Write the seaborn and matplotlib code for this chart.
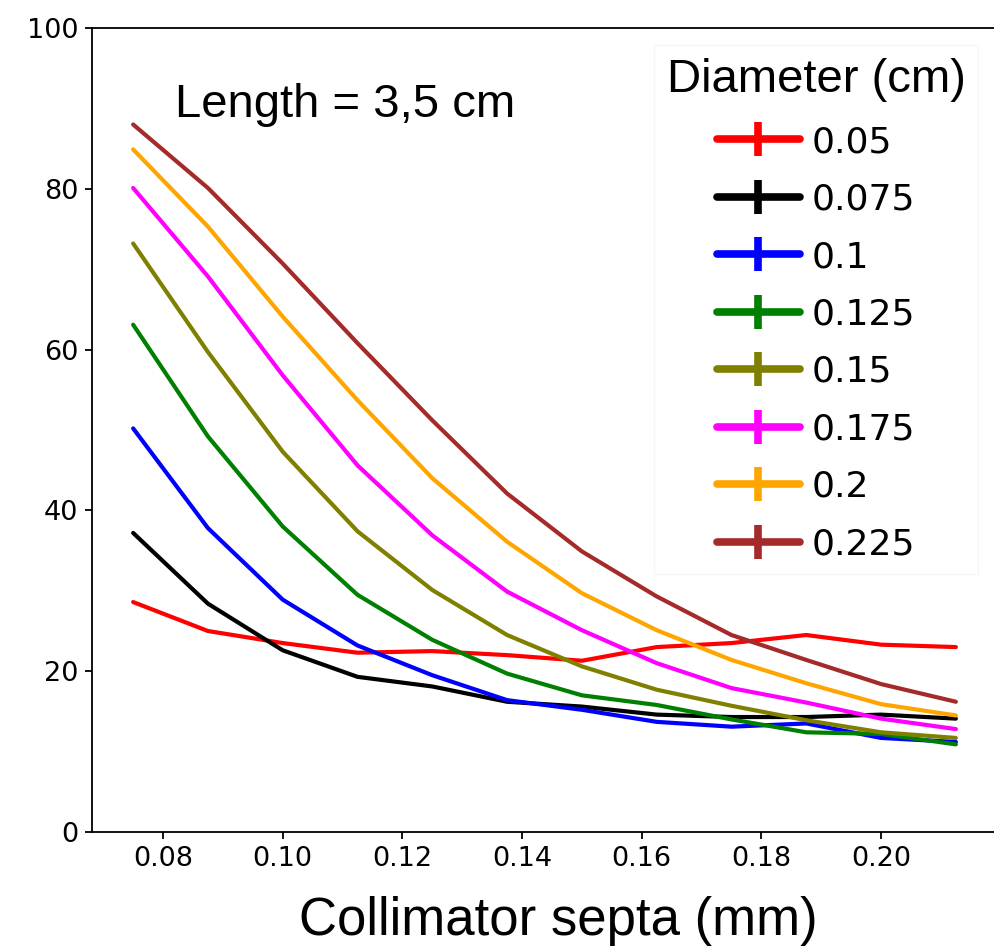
import numpy as np
import pandas as pd
import matplotlib
matplotlib.use("Agg")
import matplotlib.pyplot as plt
from matplotlib.lines import Line2D
import seaborn as sns

# Collimator septa thickness (mm)
septa = [0.075, 0.0875, 0.1, 0.1125, 0.125, 0.1375, 0.15, 0.1625, 0.175, 0.1875, 0.2, 0.2125]

# Hole diameters (cm) and their line colours
diameters = ["0.05", "0.075", "0.1", "0.125", "0.15", "0.175", "0.2", "0.225"]
colors = ["red", "black", "blue", "green", "olive", "magenta", "orange", "brown"]

d_005 = [28.6, 25.0, 23.5, 22.3, 22.5, 22.0, 21.3, 23.0, 23.5, 24.5, 23.3, 23.0]
d_0075 = [37.2, 28.4, 22.6, 19.3, 18.1, 16.2, 15.6, 14.6, 14.3, 14.3, 14.6, 14.1]
d_010 = [50.2, 37.8, 28.9, 23.2, 19.5, 16.4, 15.2, 13.7, 13.1, 13.5, 11.7, 11.2]
d_0125 = [63.1, 49.2, 38.0, 29.5, 23.9, 19.7, 17.0, 15.8, 14.0, 12.4, 12.2, 10.9]
d_015 = [73.2, 59.7, 47.3, 37.4, 30.1, 24.5, 20.6, 17.7, 15.7, 13.9, 12.4, 11.7]
d_0175 = [80.1, 69.1, 56.8, 45.6, 36.9, 29.9, 25.1, 21.0, 17.9, 16.1, 14.1, 12.8]
d_020 = [84.9, 75.3, 64.1, 53.7, 44.0, 36.1, 29.7, 25.1, 21.4, 18.5, 15.9, 14.5]
d_0225 = [88.0, 80.1, 70.7, 60.8, 51.2, 42.1, 34.9, 29.3, 24.5, 21.4, 18.4, 16.2]

series = [d_005, d_0075, d_010, d_0125, d_015, d_0175, d_020, d_0225]

df = pd.DataFrame({
    "septa": np.tile(septa, len(diameters)),
    "value": np.concatenate(series),
    "diameter": np.repeat(diameters, len(septa)),
})

sns.set_style("ticks")
plt.rcParams["font.family"] = ["DejaVu Sans"]
plt.rcParams["text.color"] = "black"
plt.rcParams["xtick.color"] = "black"
plt.rcParams["ytick.color"] = "black"
plt.rcParams["axes.labelcolor"] = "black"
plt.rcParams["axes.edgecolor"] = "black"

fig = plt.figure(figsize=(9.94, 9.48), dpi=100)
ax = fig.add_axes([92 / 994, 116 / 948, 905 / 994, 804 / 948])

sns.lineplot(data=df, x="septa", y="value", hue="diameter", hue_order=diameters,
             palette=dict(zip(diameters, colors)), linewidth=3, legend=False, ax=ax)

ax.set_ylim(0, 100)
ax.margins(x=0.05)
ax.set_xticks([0.08, 0.10, 0.12, 0.14, 0.16, 0.18, 0.20])
ax.set_xticklabels(["0.08", "0.10", "0.12", "0.14", "0.16", "0.18", "0.20"])
ax.set_yticks([0, 20, 40, 60, 80, 100])
ax.set_xlabel("")
ax.set_ylabel("")
ax.tick_params(axis="both", labelsize=19.5, length=5, width=1.3, colors="black", pad=5)
for sp in ax.spines.values():
    sp.set_linewidth(1.3)
    sp.set_color("black")

# Legend with error-bar style handles
handles = [Line2D([], [], color=c, lw=5.5, marker="|", markersize=25, markeredgewidth=5.5)
           for c in colors]
leg = ax.legend(handles, diameters, title="Diameter (cm)", loc="upper center",
                bbox_to_anchor=(816 / 994, 1 - 45 / 948), bbox_transform=fig.transFigure,
                fontsize=26, handlelength=2.3, handletextpad=0.33, labelspacing=0.65,
                borderpad=0.35, borderaxespad=0, frameon=True, fancybox=False,
                framealpha=1.0)
leg.get_frame().set_edgecolor("#f6f6f6")
leg.get_frame().set_linewidth(1.0)
leg.get_title().set_fontfamily("Liberation Sans")
leg.get_title().set_fontsize(34)
leg.get_title().set_color("black")
for t in leg.get_texts():
    t.set_color("black")

fig.text(175 / 994, 1 - 117 / 948, "Length = 3,5 cm", family="Liberation Sans",
         fontsize=34, ha="left", va="baseline", color="black")
fig.text(558 / 994, 1 - 935 / 948, "Collimator septa (mm)", family="Liberation Sans",
         fontsize=38, ha="center", va="baseline", color="black")

fig.savefig("out.png", dpi=100, facecolor="white")
